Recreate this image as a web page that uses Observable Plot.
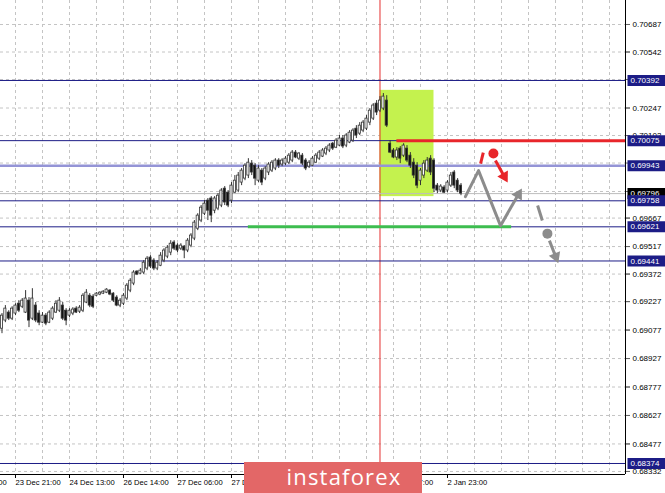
<!DOCTYPE html>
<html><head><meta charset="utf-8">
<script src="https://cdn.jsdelivr.net/npm/d3@7"></script>
<script src="https://cdn.jsdelivr.net/npm/@observablehq/plot@0.6"></script>
<style>
html,body{margin:0;padding:0;background:#fff;}
#wrap{position:relative;width:665px;height:493px;overflow:hidden;}
#wrap svg{display:block;overflow:hidden;}
#logo{position:absolute;left:244px;top:462px;width:178px;height:31px;box-sizing:border-box;padding-left:22px;background:#e36767;color:#fff;font-family:"Open Sans",sans-serif;font-size:22px;letter-spacing:1.2px;line-height:29px;text-align:center;}
</style>
</head><body>
<div id="wrap"><div id="chart"></div><div id="logo">instaforex</div></div>
<script>
const opens = [
0.69084,0.69127,0.69169,0.69137,0.69164,0.69216,0.69200,0.69169,0.69232,0.69137,
0.69206,0.69164,0.69116,0.69153,0.69116,0.69137,0.69169,0.69179,0.69206,0.69179,
0.69153,0.69164,0.69190,0.69174,0.69179,0.69222,0.69258,0.69253,0.69258,0.69264,
0.69269,0.69274,0.69285,0.69269,0.69248,0.69206,0.69216,0.69243,0.69285,0.69322,
0.69385,0.69374,0.69380,0.69401,0.69459,0.69443,0.69401,0.69416,0.69443,0.69464,
0.69485,0.69538,0.69522,0.69506,0.69517,0.69496,0.69522,0.69559,0.69611,0.69654,
0.69690,0.69759,0.69770,0.69706,0.69717,0.69733,0.69822,0.69801,0.69759,0.69801,
0.69812,0.69854,0.69875,0.69891,0.69954,0.69943,0.69864,0.69917,0.69875,0.69907,
0.69917,0.69928,0.69970,0.69949,0.69954,0.69959,0.69970,0.70012,0.69980,0.69996,
0.69970,0.69938,0.69943,0.69959,0.69980,0.69991,0.70007,0.70023,0.70059,0.70038,
0.70049,0.70086,0.70049,0.70065,0.70075,0.70138,0.70112,0.70128,0.70138,0.70170,
0.70191,0.70270,0.70233,0.70244,0.70286,0.70059,0.70023,0.69986,0.70033,0.69996,
0.70033,0.69996,0.69959,0.69943,0.69864,0.69891,0.69917,0.69980,0.69970,0.69838,
0.69812,0.69828,0.69812,0.69838,0.69907,0.69864,0.69838];
const highs = [
0.69164,0.69206,0.69179,0.69200,0.69216,0.69232,0.69243,0.69285,0.69248,0.69295,
0.69222,0.69179,0.69169,0.69164,0.69179,0.69200,0.69232,0.69248,0.69222,0.69190,
0.69190,0.69195,0.69200,0.69206,0.69269,0.69290,0.69269,0.69264,0.69274,0.69279,
0.69285,0.69295,0.69290,0.69274,0.69258,0.69243,0.69269,0.69322,0.69348,0.69390,
0.69390,0.69401,0.69443,0.69464,0.69469,0.69453,0.69443,0.69485,0.69506,0.69522,
0.69548,0.69548,0.69532,0.69532,0.69522,0.69559,0.69585,0.69654,0.69690,0.69733,
0.69759,0.69770,0.69780,0.69780,0.69796,0.69822,0.69833,0.69812,0.69854,0.69891,
0.69907,0.69928,0.69954,0.69980,0.69970,0.69954,0.69943,0.69928,0.69938,0.69959,
0.69970,0.69980,0.69980,0.69980,0.69991,0.70007,0.70023,0.70023,0.70012,0.70007,
0.69980,0.69970,0.69991,0.70007,0.70023,0.70033,0.70044,0.70059,0.70065,0.70086,
0.70102,0.70102,0.70112,0.70128,0.70138,0.70154,0.70170,0.70181,0.70207,0.70244,
0.70270,0.70286,0.70307,0.70323,0.70312,0.70075,0.70033,0.70038,0.70044,0.70059,
0.70049,0.70012,0.69980,0.69959,0.69928,0.69970,0.69986,0.69996,0.69980,0.69849,
0.69843,0.69838,0.69864,0.69907,0.69917,0.69875,0.69849];
const lows = [
0.69058,0.69116,0.69127,0.69127,0.69153,0.69169,0.69190,0.69164,0.69090,0.69127,
0.69116,0.69100,0.69111,0.69100,0.69111,0.69127,0.69164,0.69169,0.69127,0.69100,
0.69142,0.69153,0.69164,0.69164,0.69169,0.69216,0.69195,0.69190,0.69253,0.69258,
0.69264,0.69269,0.69258,0.69222,0.69200,0.69195,0.69206,0.69232,0.69274,0.69311,
0.69364,0.69369,0.69369,0.69390,0.69401,0.69390,0.69390,0.69411,0.69432,0.69453,
0.69469,0.69496,0.69485,0.69496,0.69453,0.69485,0.69511,0.69548,0.69601,0.69643,
0.69680,0.69654,0.69643,0.69690,0.69706,0.69722,0.69733,0.69722,0.69743,0.69796,
0.69801,0.69838,0.69864,0.69875,0.69891,0.69838,0.69854,0.69838,0.69864,0.69891,
0.69907,0.69917,0.69928,0.69938,0.69943,0.69949,0.69959,0.69980,0.69970,0.69943,
0.69917,0.69928,0.69938,0.69954,0.69970,0.69986,0.69996,0.70012,0.70023,0.70033,
0.70044,0.70033,0.70038,0.70059,0.70065,0.70086,0.70102,0.70117,0.70128,0.70154,
0.70181,0.70207,0.70223,0.70233,0.70144,0.70007,0.69980,0.69970,0.69954,0.69986,
0.69959,0.69928,0.69875,0.69822,0.69838,0.69875,0.69907,0.69891,0.69801,0.69796,
0.69801,0.69796,0.69801,0.69828,0.69822,0.69801,0.69785];
const closes = [
0.69153,0.69190,0.69137,0.69190,0.69206,0.69179,0.69232,0.69243,0.69127,0.69243,
0.69127,0.69116,0.69153,0.69111,0.69169,0.69190,0.69216,0.69232,0.69137,0.69127,
0.69179,0.69185,0.69169,0.69195,0.69258,0.69274,0.69206,0.69200,0.69269,0.69274,
0.69279,0.69290,0.69264,0.69232,0.69206,0.69232,0.69258,0.69311,0.69337,0.69380,
0.69369,0.69390,0.69432,0.69453,0.69411,0.69401,0.69432,0.69469,0.69496,0.69511,
0.69532,0.69506,0.69496,0.69522,0.69496,0.69548,0.69575,0.69643,0.69680,0.69722,
0.69743,0.69706,0.69680,0.69770,0.69785,0.69812,0.69749,0.69733,0.69838,0.69864,
0.69891,0.69917,0.69943,0.69959,0.69907,0.69875,0.69928,0.69854,0.69928,0.69949,
0.69959,0.69970,0.69943,0.69970,0.69980,0.69996,0.70012,0.69986,0.70007,0.69954,
0.69928,0.69959,0.69980,0.69996,0.70012,0.70023,0.70033,0.70049,0.70033,0.70075,
0.70086,0.70044,0.70102,0.70117,0.70128,0.70102,0.70154,0.70170,0.70191,0.70233,
0.70260,0.70223,0.70286,0.70307,0.70154,0.70012,0.69986,0.70023,0.69980,0.70049,
0.69970,0.69943,0.69891,0.69838,0.69917,0.69954,0.69970,0.69907,0.69822,0.69812,
0.69833,0.69801,0.69854,0.69891,0.69838,0.69812,0.69796];

const gridPrices = [0.70687,0.70542,0.70397,0.70247,0.70102,0.69957,0.69807,0.69667,0.69517,0.69372,0.69227,0.69077,0.68927,0.68777,0.68627,0.68477,0.68332];
const priceLabels = [0.70687,0.70542,0.70247,0.70102,0.69807,0.69667,0.69517,0.69372,0.69227,0.69077,0.68927,0.68777,0.68627,0.68477,0.68332];
const navyLevels = [0.70392,0.70075,0.69758,0.69621,0.69441,0.68374];
const lavenderLevels = [0.69943];
const bidPrice = [0.69796];
const timeIdx = [-12,4,20,36,52,68,116,132];
const timeLabels = ["23 Dec 05:00","23 Dec 21:00","24 Dec 13:00","26 Dec 14:00","27 Dec 06:00","27 Dec 22:00","2 Jan 07:00","2 Jan 23:00"];
const gridIdx = [-4,4,12,20,28,36,44,52,60,68,76,84,92,100,108,116,124,132,140,148,156,164,172,180];
const separatorIdx = [112];
const xDomain = [-0.44, 184.74];
const yDomain = [0.68316, 0.708134];

const zone = [{x1:112, x2:128, y1:0.69780, y2:0.70340}];
const redLevel = [{x1:117, x2:184.74, y:0.70075}];
const greenLevel = [{x1:73, x2:151, y:0.69621}];
const zigzag = [{i:137.3, p:0.69780},{i:141.2, p:0.69917},{i:147.7, p:0.69627}];
const greyUp = [{i1:147.7, p1:0.69627, i2:154.0, p2:0.69822}];
const redDash = [{i1:142.6, p1:0.70012, i2:141.8, p2:0.69954}];
const redDot = [{i:145.6, p:0.70007}];
const redDown = [{i1:146.2, p1:0.69970, i2:149.8, p2:0.69855}];
const greyDash = [{i1:158.7, p1:0.69733, i2:160.1, p2:0.69654}];
const greyDot = [{i:161.6, p:0.69585}];
const greyDown = [{i1:162.2, p1:0.69548, i2:164.8, p2:0.69430}];

const bars = opens.map((o, i) => ({i, o, h: highs[i], l: lows[i], c: closes[i]}));
const labelOf = new Map(timeIdx.map((d, k) => [d, timeLabels[k]]));
const fmt = d3.format(".5f");
const boxSymbol = {draw(ctx){ ctx.moveTo(2,-5.5); ctx.lineTo(40,-5.5); ctx.lineTo(40,5.5); ctx.lineTo(2,5.5); ctx.closePath(); }};
const RED = "#e8262b", GREY = "#8c8c8c", NAVY = "#1c1c86";

// pixel per unit (plot frame is 625 x 474)
const kx = 625 / (xDomain[1] - xDomain[0]);
const ky = 474 / (yDomain[1] - yDomain[0]);
function arrowParts(a, back) {
  const sx = (a.i2 - a.i1) * kx, sy = -(a.p2 - a.p1) * ky;
  const len = Math.hypot(sx, sy), ux = sx / len, uy = sy / len;
  const ci = a.i2 - back * ux / kx, cp = a.p2 + back * uy / ky;
  return {shaft: [{i1: a.i1, p1: a.p1, i2: ci, p2: cp}],
          head: [{i: ci, p: cp, rot: Math.atan2(sx, -sy) * 180 / Math.PI}]};
}
function arrowMarks(data, color, r) {
  const parts = arrowParts(data[0], r * 1.5);
  return [
    Plot.link(parts.shaft, {x1: "i1", y1: "p1", x2: "i2", y2: "p2", stroke: color, strokeWidth: 3}),
    Plot.dot(parts.head, {x: "i", y: "p", r, symbol: "triangle", rotate: "rot", fill: color, stroke: null})
  ];
}

const chart = Plot.plot({
  width: 665, height: 493,
  marginTop: 0, marginRight: 40, marginBottom: 19, marginLeft: 0,
  x: {domain: xDomain},
  y: {domain: yDomain},
  style: {fontFamily: '"Liberation Sans", Arial, sans-serif', fontSize: "8px", background: "#fff", color: "#000"},
  marks: [
    Plot.ruleY(gridPrices, {stroke: "#c4c4c4", strokeDasharray: "3,3"}),
    Plot.ruleX(gridIdx, {stroke: "#c4c4c4", strokeDasharray: "3,3"}),
    Plot.rect(zone, {x1: "x1", x2: "x2", y1: "y1", y2: "y2", fill: "#c4f24e"}),
    Plot.ruleX(separatorIdx, {stroke: "#e53030", strokeWidth: 1}),
    Plot.ruleY(bidPrice, {stroke: "#bdbdbd"}),
    Plot.ruleY(lavenderLevels, {stroke: "#9494d6", strokeWidth: 2.5}),
    Plot.ruleY(navyLevels, {stroke: NAVY, strokeWidth: 1}),
    Plot.ruleY(redLevel, {x1: "x1", x2: "x2", y: "y", stroke: RED, strokeWidth: 3}),
    Plot.ruleY(greenLevel, {x1: "x1", x2: "x2", y: "y", stroke: "#3dbd4f", strokeWidth: 3}),
    Plot.ruleX(bars, {x: "i", y1: "l", y2: "h", stroke: "#333", strokeWidth: 1}),
    Plot.rect(bars, {x1: d => d.i - 0.32, x2: d => d.i + 0.32, y1: "o", y2: "c",
      fill: d => d.c >= d.o ? "#fff" : "#111", stroke: "#333", strokeWidth: 0.8}),
    Plot.line(zigzag, {x: "i", y: "p", stroke: GREY, strokeWidth: 3}),
    ...arrowMarks(greyUp, GREY, 4.5),
    Plot.link(redDash, {x1: "i1", y1: "p1", x2: "i2", y2: "p2", stroke: RED, strokeWidth: 3}),
    Plot.dot(redDot, {x: "i", y: "p", r: 5, fill: RED}),
    ...arrowMarks(redDown, RED, 4.5),
    Plot.link(greyDash, {x1: "i1", y1: "p1", x2: "i2", y2: "p2", stroke: GREY, strokeWidth: 3}),
    Plot.dot(greyDot, {x: "i", y: "p", r: 5, fill: GREY}),
    ...arrowMarks(greyDown, GREY, 4.5),
    Plot.ruleX([xDomain[1]], {stroke: "#000"}),
    Plot.ruleY([yDomain[0]], {stroke: "#000"}),
    Plot.axisY({anchor: "right", ticks: gridPrices, tickFormat: () => "", tickSize: 4, stroke: "#666"}),
    Plot.axisY({anchor: "right", ticks: priceLabels, tickFormat: fmt, tickSize: 4, tickPadding: 3, stroke: "#666", fill: "#000"}),
    Plot.axisX({ticks: timeIdx, tickFormat: d => labelOf.get(d), tickSize: 4, tickPadding: 1, textAnchor: "start", dx: 0, fontSize: 7.6, stroke: "#000", fill: "#000"}),
    Plot.dot(bidPrice, {y: d => d, frameAnchor: "right", symbol: boxSymbol, fill: "#000", stroke: null}),
    Plot.text(bidPrice, {y: d => d, text: d => fmt(d), frameAnchor: "right", textAnchor: "start", dx: 5, fill: "#fff"}),
    Plot.dot(navyLevels.concat(lavenderLevels), {y: d => d, frameAnchor: "right", symbol: boxSymbol, fill: NAVY, stroke: null}),
    Plot.text(navyLevels.concat(lavenderLevels), {y: d => d, text: d => fmt(d), frameAnchor: "right", textAnchor: "start", dx: 5, fill: "#fff"})
  ]
});
document.getElementById("chart").append(chart);
</script>
</body></html>
